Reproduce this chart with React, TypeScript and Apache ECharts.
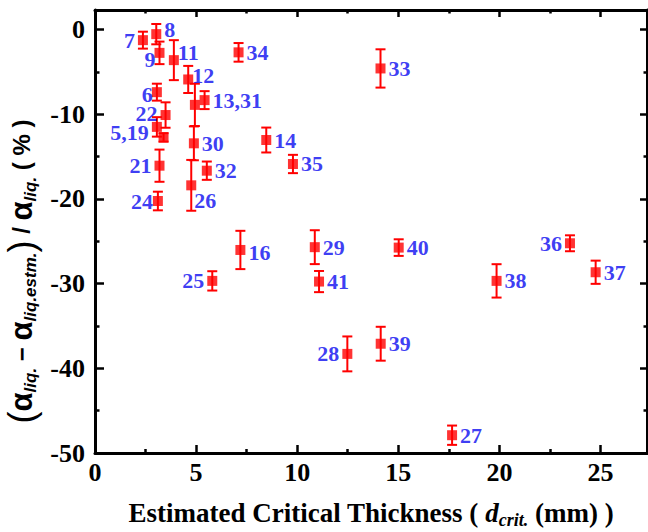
import React, { useEffect, useRef } from "react";
import * as echarts from "echarts";

// ---- data ----
const pointLabels = ["7", "8", "9", "11", "34", "12", "6", "13,31", "", "22", "5,19", "", "30", "21", "32", "26", "24", "14", "33", "35", "16", "25", "29", "41", "28", "40", "36", "37", "38", "39", "27"];
const critThickness = [2.37, 3.03, 3.19, 3.9, 7.1, 4.61, 3.06, 5.42, 4.94, 3.49, 3.06, 3.39, 4.89, 3.19, 5.53, 4.76, 3.11, 8.47, 14.12, 9.79, 7.19, 5.8, 10.87, 11.08, 12.48, 15.02, 23.49, 24.76, 19.86, 14.13, 17.66];
const relDeviation = [-1.26, -0.55, -2.76, -3.62, -2.7, -5.9, -7.4, -8.34, -8.9, -10.1, -11.5, -12.74, -13.44, -16.08, -16.67, -18.4, -20.25, -13.05, -4.6, -15.88, -26.03, -29.68, -25.7, -29.76, -38.3, -25.75, -25.24, -28.66, -29.68, -37.1, -47.9];
const errValues = [1.0, 1.2, 1.33, 2.36, 1.1, 1.6, 1.0, 1.06, 2.5, 1.5, 1.15, 0.5, 2.0, 1.9, 1.08, 3.0, 1.1, 1.47, 2.26, 1.08, 2.26, 1.14, 2.0, 1.25, 2.06, 0.98, 0.94, 1.37, 1.97, 2.0, 1.14];
const xTickValues = [0, 5, 10, 15, 20, 25];
const yTickValues = [0, -10, -20, -30, -40, -50];

// ---- label placement (style) ----
const leftLabels = ["7", "9", "6", "22", "5,19", "21", "24", "25", "28", "36"];
const labelOffsets: Record<string, [number, number]> = {
  "8": [0, -5],
  "11": [-4, -8],
  "12": [-4, -4],
  "26": [-5, 15],
  "9": [4, 7],
  "6": [4, 2],
  "22": [0, -2],
  "5,19": [0, 6],
  "24": [3, 0],
  "16": [0, 3],
};

const FONT = "Liberation Serif";
const SANS = "Liberation Sans";
const RED = "#ff0000";
const BLUE = "#0a0af0";

export default function App() {
  const ref = useRef<HTMLDivElement>(null);
  useEffect(() => {
    document.body.style.margin = "0";
    if (!ref.current) return;
    const chart = echarts.init(ref.current, undefined, { renderer: "svg" });
    const X_MAX = 27.3;
    const Y_MAX = 2.3;
    const Y_MIN = -50;

    const xFmt = (v: number) => (xTickValues.includes(v) ? String(v) : "");
    const yFmt = (v: number) => (yTickValues.includes(v) ? String(v) : "");

    const tickStyle = { color: "#000", width: 2.5 };
    const lineStyle = { color: "#000", width: 3 };

    const mkX = (pos: "top" | "bottom", tickLen: number, extra: any = {}) => ({
      type: "value",
      min: 0,
      max: X_MAX,
      interval: 5,
      position: pos,
      axisLine: { show: true, onZero: false, lineStyle },
      axisTick: { show: true, inside: true, length: tickLen, lineStyle: tickStyle },
      minorTick: { show: true, splitNumber: 2, length: tickLen / 2, lineStyle: { color: "#000", width: 2.5 } },
      axisLabel: { show: false },
      splitLine: { show: false },
      ...extra,
    });
    const mkY = (pos: "left" | "right", tickLen: number, extra: any = {}) => ({
      type: "value",
      min: Y_MIN,
      max: Y_MAX,
      interval: 10,
      position: pos,
      axisLine: { show: true, onZero: false, lineStyle },
      axisTick: { show: true, inside: true, length: tickLen, lineStyle: tickStyle },
      minorTick: { show: true, splitNumber: 2, length: tickLen / 2, lineStyle: { color: "#000", width: 2.5 } },
      axisLabel: { show: false },
      splitLine: { show: false },
      ...extra,
    });

    const scatterData = critThickness.map((x, i) => {
      const name = pointLabels[i];
      const isLeft = leftLabels.includes(name);
      return {
        value: [x, relDeviation[i]],
        label: {
          show: name !== "",
          position: isLeft ? "left" : "right",
          offset: labelOffsets[name] || [0, 0],
        },
      };
    });

    const errData = critThickness.map((x, i) => [x, relDeviation[i], errValues[i]]);

    const option: any = {
      animation: false,
      backgroundColor: "#fff",
      grid: { left: 95, right: 1, top: 10, bottom: 79, containLabel: false, outerBoundsMode: "none" },
      xAxis: [
        mkX("bottom", 8, {
          axisLabel: {
            show: true,
            formatter: xFmt,
            fontSize: 26,
            fontWeight: "bold",
            fontFamily: FONT,
            color: "#000",
            margin: 6,
          },
          name: "{t|Estimated Critical Thickness ( }{i|d}{s|crit.}{t| (mm) )}",
          nameLocation: "middle",
          nameGap: 44,
          nameTextStyle: {
            rich: {
              t: { fontSize: 27, fontWeight: "bold", fontFamily: FONT, color: "#000", lineHeight: 32 },
              i: { fontSize: 27, fontWeight: "bold", fontStyle: "italic", fontFamily: FONT, color: "#000", lineHeight: 32 },
              s: { fontSize: 18, fontWeight: "bold", fontStyle: "italic", fontFamily: FONT, color: "#000", lineHeight: 10, verticalAlign: "bottom" },
            },
          },
        }),
        mkX("top", 7),
      ],
      yAxis: [
        mkY("left", 9, {
          axisLabel: {
            show: true,
            formatter: yFmt,
            fontSize: 26,
            fontWeight: "bold",
            fontFamily: FONT,
            color: "#000",
            margin: 10,
          },
          name: "{p|(}{a|α}{s|liq.}{t| − }{a|α}{s|liq.estm.}{p|)}{t| / }{a|α}{s|liq.}{t| ( % )}",
          nameLocation: "middle",
          nameRotate: 90,
          nameGap: 42,
          nameTextStyle: {
            padding: [0, 80, 0, 0],
            rich: {
              p: { fontSize: 36, fontFamily: SANS, color: "#000", lineHeight: 36 },
              a: { fontSize: 31, fontWeight: "bold", fontFamily: SANS, color: "#000", lineHeight: 36 },
              t: { fontSize: 24, fontWeight: "bold", fontFamily: SANS, color: "#000", lineHeight: 36 },
              s: { fontSize: 17, fontWeight: "bold", fontStyle: "italic", fontFamily: SANS, color: "#000", lineHeight: 10, verticalAlign: "bottom" },
            },
          },
        }),
        mkY("right", 7),
      ],
      series: [
        {
          type: "custom",
          xAxisIndex: 0,
          yAxisIndex: 0,
          z: 2,
          data: errData,
          renderItem: (params: any, api: any) => {
            const x = api.value(0);
            const y = api.value(1);
            const e = api.value(2);
            const top = api.coord([x, y + e]);
            const bot = api.coord([x, y - e]);
            const hw = 5;
            const style = { stroke: RED, lineWidth: 2 };
            return {
              type: "group",
              children: [
                { type: "line", shape: { x1: top[0], y1: top[1], x2: bot[0], y2: bot[1] }, style },
                { type: "line", shape: { x1: top[0] - hw, y1: top[1], x2: top[0] + hw, y2: top[1] }, style },
                { type: "line", shape: { x1: bot[0] - hw, y1: bot[1], x2: bot[0] + hw, y2: bot[1] }, style },
              ],
            };
          },
        },
        {
          type: "scatter",
          xAxisIndex: 0,
          yAxisIndex: 0,
          z: 3,
          symbol: "rect",
          symbolSize: 10,
          itemStyle: { color: RED },
          label: {
            show: true,
            formatter: (p: any) => pointLabels[p.dataIndex],
            distance: 3,
            fontSize: 22,
            fontWeight: "bold",
            fontFamily: FONT,
            color: BLUE,
          },
          emphasis: { disabled: true },
          data: scatterData,
        },
      ],
    };
    chart.setOption(option);
    return () => chart.dispose();
  }, []);
  return <div ref={ref} style={{ position: "fixed", left: 0, top: 0, width: 648, height: 532 }} />;
}
